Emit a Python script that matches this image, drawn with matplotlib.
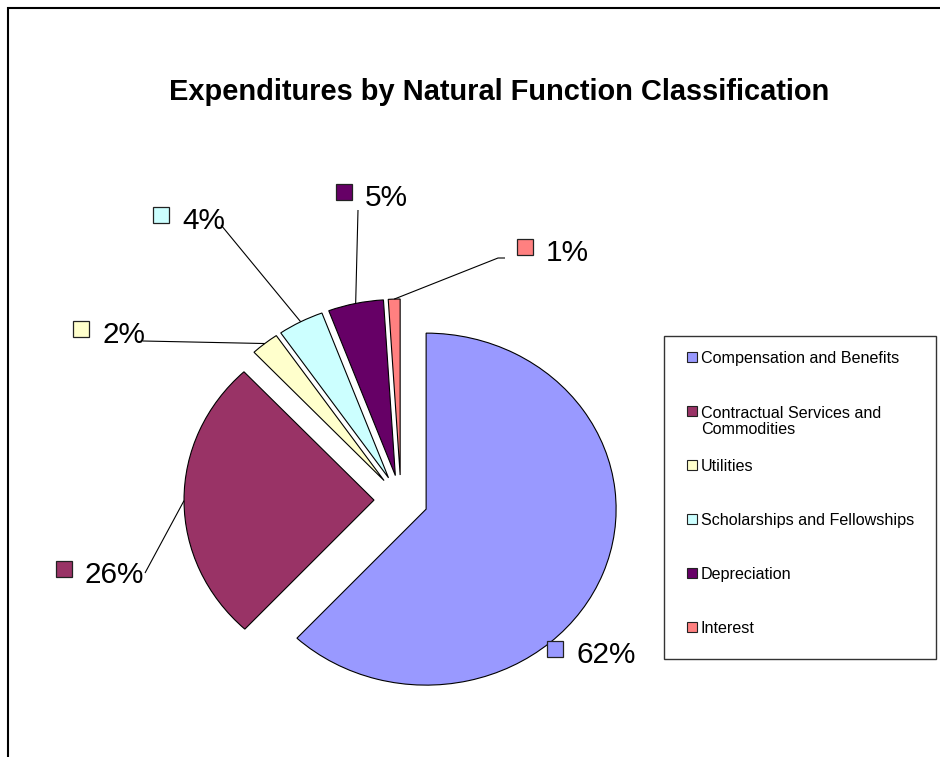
import matplotlib
matplotlib.use("agg")
import matplotlib.pyplot as plt
from matplotlib.patches import Rectangle
import numpy as np

plt.rcParams['font.family'] = ['Liberation Sans', 'DejaVu Sans']

# data
categories = ["Compensation and Benefits",
              "Contractual Services and\nCommodities",
              "Utilities",
              "Scholarships and Fellowships",
              "Depreciation",
              "Interest"]
shares = [61.9, 26.1, 2.4, 3.9, 4.7, 1.0]
colors = ["#9999FF", "#993366", "#FFFFCC", "#CCFFFF", "#660066", "#FF8080"]

# layout (pixels of the 940x757 picture)
W, H = 940, 757
CX, CY, RX, RY = 401, 500, 190, 176
EXPLODE = 0.142
label_sq = [(555, 649), (64, 569), (81, 329), (161, 215), (344, 192), (525, 247)]
leader_start = [[], [(145, 573)], [(143, 341)], [(221, 225)],
                [(358, 210)], [(505, 258), (498, 258)]]


def to_data(x, y):
    return (x - CX) / RX, (CY - y) / RY


fig = plt.figure(figsize=(W / 100, H / 100), dpi=100)
ax = fig.add_axes([0, 0, 1, 1])

wedges, _ = ax.pie(shares, colors=colors, startangle=90, counterclock=False,
                   explode=[EXPLODE] * len(shares), radius=1, center=(0, 0),
                   wedgeprops=dict(edgecolor="black", linewidth=0.8))
ax.set_aspect("auto")
ax.set_xlim(-CX / RX, (W - CX) / RX)
ax.set_ylim((CY - H) / RY, CY / RY)
ax.axis("off")

# data labels with leader lines to the middle of each arc
total = sum(shares)
for i, w in enumerate(wedges):
    mid = np.deg2rad((w.theta1 + w.theta2) / 2)
    arc = ((1 + EXPLODE) * np.cos(mid), (1 + EXPLODE) * np.sin(mid))
    if leader_start[i]:
        pts = [to_data(x, y) for x, y in leader_start[i]] + [arc]
        ax.plot([p[0] for p in pts], [p[1] for p in pts], color="black",
                lw=0.8, solid_capstyle="butt")
    sx, sy = label_sq[i]
    ax.plot(*to_data(sx, sy), marker="s", ms=11, mfc=colors[i],
            mec="#222222", mew=0.9)
    ax.text(*to_data(sx + 21, sy + 3 + 10.6), f"{round(shares[i] / total * 100)}%",
            fontsize=21.4, ha="left", va="baseline", color="black")

# title
fig.text(499 / W, 1 - 100 / H, "Expenditures by Natural Function Classification",
         fontsize=20.9, fontweight="bold", ha="center", va="baseline")

# legend box
fig.patches.append(Rectangle((664 / W, 1 - 659 / H), (936 - 664) / W, (659 - 336) / H,
                             transform=fig.transFigure, fill=False,
                             edgecolor="#333333", lw=1.0))
line_px = 17
for i, name in enumerate(categories):
    ly = 357 + 54 * i
    extra = name.count("\n") * line_px
    ax.plot(*to_data(692, ly), marker="s", ms=7.5, mfc=colors[i],
            mec="#222222", mew=0.8)
    ax.text(*to_data(701, ly + 5.8 + extra), name, fontsize=11.6, ha="left",
            va="baseline", linespacing=1.05)

# outer chart frame
fig.patches.append(Rectangle((8 / W, -0.05), 1.1, 1.05 - 8 / H,
                             transform=fig.transFigure, fill=False,
                             edgecolor="black", lw=1.5))

fig.savefig("out.png", dpi=100)
plt.close(fig)
